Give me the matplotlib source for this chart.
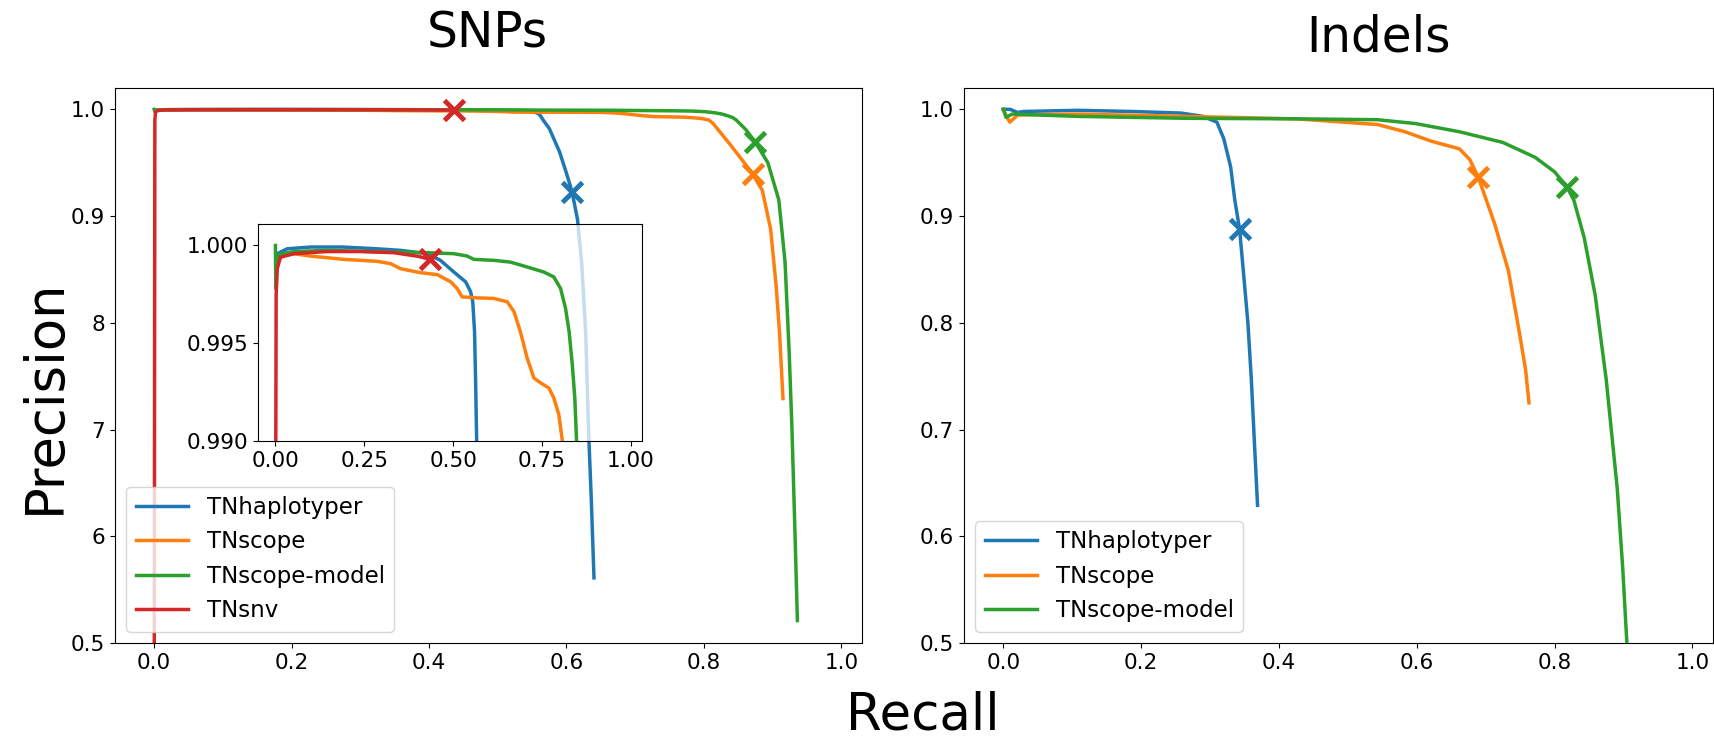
import matplotlib
matplotlib.use("Agg")
import matplotlib.pyplot as plt

# SNPs (left panel, also shown zoomed in the inset)
snp_haplo_recall = [0.002, 0.005, 0.033, 0.098, 0.19, 0.286, 0.352, 0.427, 0.464, 0.502, 0.535, 0.549,
                    0.555, 0.56, 0.563, 0.566, 0.575, 0.59, 0.60, 0.608, 0.616, 0.622, 0.628, 0.632, 0.636, 0.640]
snp_haplo_prec = [0.9994, 0.99958, 0.99983, 0.99992, 0.99992, 0.99983, 0.99975, 0.99958, 0.99924, 0.99864,
                  0.99814, 0.99763, 0.99712, 0.9956, 0.99305, 0.990, 0.982, 0.96, 0.94, 0.923, 0.897, 0.857,
                  0.79, 0.70, 0.636, 0.561]

snp_scope_recall = [0.002, 0.005, 0.023, 0.052, 0.098, 0.192, 0.286, 0.324, 0.352, 0.408, 0.455, 0.493,
                    0.511, 0.525, 0.568, 0.614, 0.652, 0.671, 0.689, 0.708, 0.727, 0.746, 0.769, 0.783,
                    0.797, 0.807, 0.813, 0.837, 0.861, 0.871, 0.885, 0.897, 0.905, 0.910, 0.915]
snp_scope_prec = [0.9985, 0.99924, 0.99949, 0.99958, 0.99946, 0.99929, 0.99919, 0.99907, 0.99881, 0.99861,
                  0.99851, 0.99814, 0.9978, 0.99737, 0.99732, 0.99729, 0.99712, 0.99661, 0.99559, 0.99424,
                  0.99322, 0.99297, 0.99271, 0.9922, 0.99136, 0.990, 0.987, 0.968, 0.948, 0.939, 0.924,
                  0.888, 0.835, 0.791, 0.729]

snp_model_recall = [0.0, 0.001, 0.004, 0.012, 0.052, 0.145, 0.333, 0.427, 0.502, 0.539, 0.558, 0.614,
                    0.661, 0.708, 0.755, 0.783, 0.802, 0.816, 0.826, 0.835, 0.842, 0.847, 0.861, 0.875,
                    0.893, 0.909, 0.918, 0.924, 0.928, 0.932, 0.936]
snp_model_prec = [1.0, 0.9978, 0.9990, 0.99955, 0.99969, 0.99975, 0.99966, 0.99963, 0.99958, 0.99946,
                  0.99929, 0.99924, 0.99915, 0.9989, 0.99864, 0.99839, 0.9978, 0.99678, 0.9956, 0.9939,
                  0.9922, 0.990, 0.981, 0.969, 0.950, 0.915, 0.857, 0.773, 0.702, 0.614, 0.521]

snp_snv_recall = [0.0, 0.001, 0.002, 0.005, 0.014, 0.052, 0.145, 0.239, 0.333, 0.40, 0.436]
snp_snv_prec = [0.40, 0.990, 0.9975, 0.9988, 0.9994, 0.99958, 0.99969, 0.99969, 0.99963, 0.99945, 0.99929]

snp_mark_recall = [0.608, 0.871, 0.875, 0.436]
snp_mark_prec = [0.923, 0.939, 0.969, 0.99929]

# Indels (right panel)
indel_haplo_recall = [0.0, 0.01, 0.021, 0.029, 0.108, 0.187, 0.258, 0.29, 0.31, 0.32, 0.33, 0.336,
                      0.343, 0.349, 0.355, 0.36, 0.364, 0.369]
indel_haplo_prec = [1.0, 1.0, 0.997, 0.998, 0.9991, 0.998, 0.9965, 0.9934, 0.988, 0.9725, 0.946, 0.915,
                    0.8875, 0.844, 0.80, 0.747, 0.694, 0.629]

indel_scope_recall = [0.0, 0.0055, 0.0095, 0.021, 0.108, 0.266, 0.425, 0.543, 0.583, 0.622, 0.662,
                      0.677, 0.689, 0.701, 0.713, 0.733, 0.749, 0.758, 0.763]
indel_scope_prec = [1.0, 0.9925, 0.988, 0.9947, 0.9956, 0.9934, 0.9911, 0.9858, 0.979, 0.970, 0.963,
                    0.953, 0.937, 0.915, 0.893, 0.849, 0.791, 0.756, 0.725]

indel_model_recall = [0.0, 0.004, 0.013, 0.108, 0.266, 0.425, 0.543, 0.598, 0.662, 0.725, 0.772, 0.80,
                      0.818, 0.828, 0.843, 0.859, 0.875, 0.891, 0.899, 0.905, 0.908]
indel_model_prec = [1.0, 0.9925, 0.9956, 0.9934, 0.9916, 0.9911, 0.9903, 0.9867, 0.979, 0.969, 0.955,
                    0.9415, 0.9274, 0.915, 0.880, 0.826, 0.747, 0.645, 0.570, 0.5, 0.45]

indel_mark_recall = [0.343, 0.689, 0.818]
indel_mark_prec = [0.8875, 0.937, 0.927]

names = ["TNhaplotyper", "TNscope", "TNscope-model", "TNsnv"]
colors = ["C0", "C1", "C2", "C3"]

left_yticks = [0.5, 0.6, 0.7, 0.8, 0.9, 1.0]
left_yticklabels = ["0.5", "6", "7", "8", "0.9", "1.0"]
xticks = [0.0, 0.2, 0.4, 0.6, 0.8, 1.0]

LW = 2.5
FS = 15.5

fig = plt.figure(figsize=(17.15, 7.43), dpi=100)
ax1 = fig.add_axes([115 / 1715, 100 / 743, 747 / 1715, 555 / 743])
ax2 = fig.add_axes([964 / 1715, 100 / 743, 749 / 1715, 555 / 743])

snp_curves = [(snp_haplo_recall, snp_haplo_prec), (snp_scope_recall, snp_scope_prec),
              (snp_model_recall, snp_model_prec), (snp_snv_recall, snp_snv_prec)]
indel_curves = [(indel_haplo_recall, indel_haplo_prec), (indel_scope_recall, indel_scope_prec),
                (indel_model_recall, indel_model_prec)]

for (r, p), name, c in zip(snp_curves, names, colors):
    ax1.plot(r, p, color=c, lw=LW, label=name)
for r, p, c in zip(snp_mark_recall, snp_mark_prec, colors):
    ax1.plot(r, p, "x", color=c, ms=15, mew=3.5)

for (r, p), name, c in zip(indel_curves, names, colors):
    ax2.plot(r, p, color=c, lw=LW, label=name)
for r, p, c in zip(indel_mark_recall, indel_mark_prec, colors):
    ax2.plot(r, p, "x", color=c, ms=15, mew=3.5)

for ax in (ax1, ax2):
    ax.set_xlim(-0.057, 1.03)
    ax.set_ylim(0.5, 1.02)
    ax.set_xticks(xticks)
    ax.set_xticklabels(["%.1f" % v for v in xticks])
    ax.tick_params(labelsize=FS)
    ax.legend(loc="lower left", fontsize=16.5, handlelength=2.3, labelspacing=0.5)

ax1.set_yticks(left_yticks)
ax1.set_yticklabels(left_yticklabels)
ax2.set_yticks(left_yticks)
ax2.set_yticklabels(["%.1f" % v for v in left_yticks])

# inset zoom of the top of the SNP curves
axin = ax1.inset_axes([0.191, 0.364, 0.514, 0.391])
axin.set_facecolor((1, 1, 1, 0.75))
for (r, p), c in zip(snp_curves, colors):
    axin.plot(r, p, color=c, lw=LW)
axin.plot(snp_mark_recall[3], snp_mark_prec[3], "x", color=colors[3], ms=15, mew=3.5)
axin.set_xlim(-0.05, 1.03)
axin.set_ylim(0.990, 1.0011)
axin.set_xticks([0.0, 0.25, 0.5, 0.75, 1.0])
axin.set_xticklabels(["0.00", "0.25", "0.50", "0.75", "1.00"])
axin.set_yticks([0.990, 0.995, 1.000])
axin.set_yticklabels(["0.990", "0.995", "1.000"])
axin.tick_params(labelsize=FS)

fig.text(487 / 1715, 1 - 47 / 743, "SNPs", fontsize=35, ha="center", va="baseline")
fig.text(1379 / 1715, 1 - 52 / 743, "Indels", fontsize=35, ha="center", va="baseline")
fig.text(60 / 1715, 1 - 396 / 743, "Precision", fontsize=38, rotation=90,
         rotation_mode="anchor", ha="center", va="baseline")
fig.text(923 / 1715, 2 / 743, "Recall", fontsize=37, ha="center", va="bottom")

fig.savefig("out.png", dpi=100)
